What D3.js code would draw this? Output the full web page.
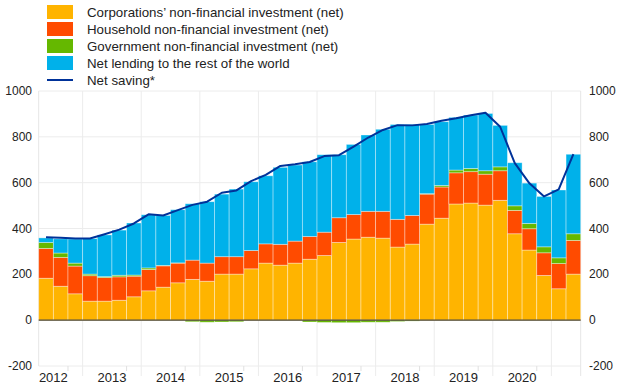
<!DOCTYPE html>
<html><head><meta charset="utf-8">
<script src="https://cdn.jsdelivr.net/npm/d3@7"></script>
<style>html,body{margin:0;padding:0;background:#fff}svg{display:block;font-family:"Liberation Sans",Arial,sans-serif}</style>
</head><body><svg id="c" width="620" height="388"></svg>
<script>
const quarters = d3.range(37).map(i => { const q = i + 1; return (2012 + Math.floor(q / 4)) + "Q" + (q % 4 + 1); });
const yearLabels = ["2012","2013","2014","2015","2016","2017","2018","2019","2020"];
const yTicks = [-200, 0, 200, 400, 600, 800, 1000];
const corporations = [183,148,115,83,83,87,102,128,144,163,178,170,201,201,224,249,240,249,266,282,339,354,362,358,319,332,419,445,507,511,502,523,377,306,195,137,201];
const households = [130,126,121,111,103,102,90,93,93,86,84,79,76,76,80,84,91,96,99,102,108,107,113,117,121,125,131,136,136,137,135,129,102,93,99,110,147];
const government = [26,19,13,7,4,7,5,7,2,1,-7,-9,-8,-7,0,0,0,0,-8,-10,-11,-11,-9,-9,-6,-4,2,7,12,14,15,17,20,23,26,25,29];
const netLending = [20,62,105,155,182,197,227,232,218,232,246,268,273,295,300,297,336,332,326,338,275,306,333,358,414,397,302,278,230,233,250,181,188,176,220,296,347];
const netSaving = [362,360,356,356,375,395,422,462,457,480,503,517,556,566,607,634,673,680,690,716,720,757,797,830,851,850,856,870,881,894,905,844,685,597,540,571,725];
const seriesNames = ["Corporations\u2019 non-financial investment (net)","Household non-financial investment (net)","Government non-financial investment (net)","Net lending to the rest of the world"];
const colors = ["#FFB400","#FF4B00","#65B800","#00B1EA"];
const lineColor = "#003299";

const svg = d3.select("#c");
const L = 38.7, R = 580.7, T = 91, B = 366;
const x = d3.scaleBand().domain(quarters).range([L, R]).padding(0);
const y = d3.scaleLinear().domain([-200, 1000]).range([B, T]);

const keys = ["c","h","g","n"];
const table = quarters.map((q, i) => ({q, c: corporations[i], h: households[i], g: government[i], n: netLending[i]}));
const stack = d3.stack().keys(keys).offset(d3.stackOffsetDiverging)(table);

// grid
const g = svg.append("g");
g.selectAll("line.h").data(yTicks).join("line")
  .attr("x1", L).attr("x2", R).attr("y1", d => y(d)).attr("y2", d => y(d))
  .attr("stroke", "#ececec").attr("stroke-width", 1);
const yearStarts = quarters.filter(q => q.endsWith("Q1"));
g.selectAll("line.v").data(yearStarts).join("line")
  .attr("x1", d => x(d)).attr("x2", d => x(d)).attr("y1", T).attr("y2", B + 10)
  .attr("stroke", "#ececec").attr("stroke-width", 1);
g.append("line").attr("x1", L).attr("x2", L).attr("y1", T).attr("y2", B).attr("stroke", "#e6e6e6");
g.append("line").attr("x1", R).attr("x2", R).attr("y1", T).attr("y2", B + 10).attr("stroke", "#e6e6e6");
const q4 = quarters.filter(q => q.endsWith("Q4"));
g.selectAll("line.t").data(q4).join("line")
  .attr("x1", d => x(d)).attr("x2", d => x(d)).attr("y1", B).attr("y2", B + 5)
  .attr("stroke", "#e0e0e0");

// bars
svg.append("g").selectAll("g").data(stack).join("g")
  .attr("fill", (d, i) => colors[i])
  .selectAll("rect").data(d => d).join("rect")
  .attr("x", d => x(d.data.q)).attr("width", x.bandwidth())
  .attr("y", d => y(Math.max(d[0], d[1]))).attr("height", d => Math.abs(y(d[0]) - y(d[1])))
  .attr("stroke", "rgba(255,255,255,0.45)").attr("stroke-width", 0.8);

// zero line
svg.append("line").attr("x1", L).attr("x2", R).attr("y1", y(0)).attr("y2", y(0))
  .attr("stroke", "#4d4630").attr("stroke-width", 1.2);

// line
const line = d3.line().x((d, i) => x(quarters[i]) + x.bandwidth() / 2).y(d => y(d));
svg.append("path").datum(netSaving).attr("d", line).attr("fill", "none")
  .attr("stroke", lineColor).attr("stroke-width", 2).attr("stroke-linejoin", "round");

// axes labels
svg.append("g").selectAll("text").data(yTicks).join("text")
  .attr("x", 32).attr("y", d => y(d) + 4).attr("text-anchor", "end")
  .attr("font-size", 12).attr("fill", "#222").text(d => d);
svg.append("g").selectAll("text").data(yTicks).join("text")
  .attr("x", 589).attr("y", d => y(d) + 4).attr("text-anchor", "start")
  .attr("font-size", 12).attr("fill", "#222").text(d => d);
const step = x.step();
svg.append("g").selectAll("text").data(yearLabels).join("text")
  .attr("x", (d, i) => x(quarters[2]) + (i * 4 - 1) * step)
  .attr("y", 382).attr("text-anchor", "middle").attr("font-size", 13).attr("fill", "#222")
  .text(d => d);

// legend
const leg = svg.append("g");
seriesNames.forEach((n, i) => {
  const cy = 12 + i * 17;
  leg.append("rect").attr("x", 47).attr("y", cy - 7).attr("width", 26).attr("height", 14).attr("fill", colors[i]);
  leg.append("text").attr("x", 87).attr("y", cy + 4.5).attr("font-size", 13.3).attr("fill", "#222").text(n);
});
leg.append("line").attr("x1", 47).attr("x2", 73).attr("y1", 80).attr("y2", 80).attr("stroke", lineColor).attr("stroke-width", 2);
leg.append("text").attr("x", 87).attr("y", 84.5).attr("font-size", 13.3).attr("fill", "#222").text("Net saving*");
</script></body></html>
